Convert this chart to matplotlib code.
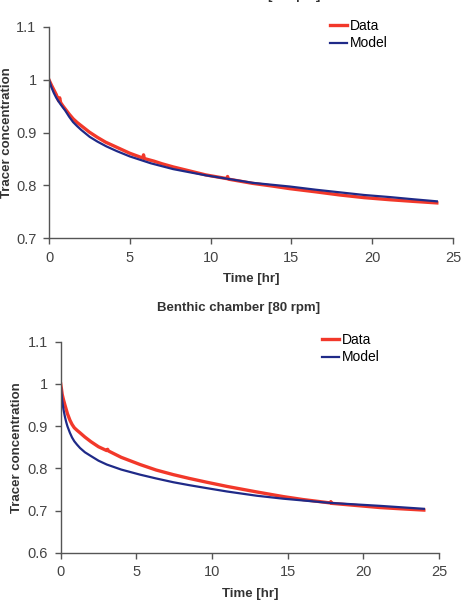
import matplotlib
matplotlib.use("Agg")
import matplotlib.pyplot as plt

plt.rcParams["font.family"] = ["Liberation Sans", "DejaVu Sans"]

RED = "#f2382a"
BLUE = "#1f2a88"
GREY = "#555555"
TXT = "#333333"

# --- top chart (title cut off at the top edge in the source) ---
top_title = "Benthic chamber [40 rpm]"
top_t_data = [0, 0.15, 0.3, 0.45, 0.6, 0.66, 0.72, 0.85, 1.0, 1.25, 1.5, 1.75,
              2.0, 2.5, 3.0, 3.5, 4.0, 4.5, 5.0, 5.8, 5.85, 5.9, 6.5, 7.0,
              7.7, 8.5, 9.7, 11.0, 11.05, 11.1, 12.6, 13.8, 14.9, 16.5, 18.0,
              19.5, 21.1, 22.5, 24.0]
top_data = [1.0, 0.990, 0.981, 0.972, 0.960, 0.966, 0.957, 0.951, 0.945,
            0.935, 0.926, 0.919, 0.913, 0.901, 0.891, 0.882, 0.875, 0.868,
            0.861, 0.852, 0.858, 0.851, 0.846, 0.841, 0.835, 0.829, 0.820,
            0.813, 0.817, 0.812, 0.804, 0.799, 0.794, 0.788, 0.782, 0.777,
            0.773, 0.770, 0.767]
top_t_model = [0, 0.15, 0.3, 0.45, 0.66, 0.85, 1.0, 1.25, 1.49, 1.75, 2.0,
               2.52, 3.0, 3.55, 4.2, 5.0, 6.3, 7.68, 8.7, 9.74, 11.8, 12.6,
               14.9, 16.5, 18.0, 19.5, 21.1, 22.5, 24.0]
top_model = [1.0, 0.986, 0.975, 0.966, 0.956, 0.948, 0.942, 0.930, 0.920,
             0.912, 0.905, 0.892, 0.883, 0.874, 0.865, 0.855, 0.842, 0.831,
             0.825, 0.819, 0.809, 0.805, 0.798, 0.792, 0.787, 0.782, 0.778,
             0.774, 0.770]

# --- bottom chart ---
bot_title = "Benthic chamber [80 rpm]"
bot_t_data = [0, 0.05, 0.1, 0.18, 0.28, 0.36, 0.45, 0.61, 0.75, 0.9, 1.08,
              1.28, 1.6, 2.0, 2.5, 3.04, 3.1, 3.16, 4.0, 5.24, 6.3, 7.44, 8.5,
              9.65, 11.0, 12.95, 14.7, 16.0, 17.8, 17.85, 17.9, 19.5, 21.1,
              22.5, 24.0]
bot_data = [1.0, 0.988, 0.975, 0.963, 0.950, 0.940, 0.929, 0.914, 0.904,
            0.896, 0.890, 0.884, 0.874, 0.863, 0.851, 0.842, 0.845, 0.841,
            0.826, 0.809, 0.796, 0.785, 0.776, 0.767, 0.757, 0.744, 0.733,
            0.726, 0.718, 0.721, 0.717, 0.712, 0.707, 0.704, 0.701]
bot_t_model = [0, 0.05, 0.1, 0.18, 0.28, 0.36, 0.45, 0.61, 0.75, 0.9, 1.08,
               1.28, 1.6, 2.0, 2.5, 3.04, 4.0, 5.24, 6.3, 7.44, 8.5, 9.65,
               11.0, 12.95, 14.7, 17.8, 21.1, 24.0]
bot_model = [1.0, 0.978, 0.960, 0.940, 0.922, 0.910, 0.899, 0.884, 0.873,
             0.864, 0.856, 0.848, 0.838, 0.829, 0.818, 0.809, 0.797, 0.785,
             0.776, 0.767, 0.760, 0.753, 0.745, 0.735, 0.728, 0.718, 0.711,
             0.704]

W, H = 463, 601


def style_axes(ax, ylim, yticks, yticklabels):
    ax.set_xlim(0, 25)
    ax.set_ylim(*ylim)
    ax.set_xticks([0, 5, 10, 15, 20, 25])
    ax.set_yticks(yticks)
    ax.set_yticklabels(yticklabels)
    for side in ["top", "right"]:
        ax.spines[side].set_visible(False)
    for side in ["left", "bottom"]:
        ax.spines[side].set_color(GREY)
        ax.spines[side].set_linewidth(1.0)
    ax.tick_params(direction="out", length=4, width=1.0, color=GREY,
                   labelsize=10.5, labelcolor="#444444", pad=5)
    ax.set_xlabel("Time [hr]", fontsize=9.5, fontweight="bold", color=TXT,
                  labelpad=6)
    ax.set_ylabel("Tracer concentration", fontsize=9.5, fontweight="bold",
                  color=TXT)


fig = plt.figure(figsize=(W / 100, H / 100), dpi=100)

ax1 = fig.add_axes([49 / W, 1 - 238.3 / H, (453 - 49) / W, (238.3 - 27) / H])
ax1.plot(top_t_data, top_data, color=RED, lw=2.4, label="Data")
ax1.plot(top_t_model, top_model, color=BLUE, lw=1.6, label="Model")
style_axes(ax1, (0.7, 1.1), [0.7, 0.8, 0.9, 1.0, 1.1],
           ["0.7", "0.8", "0.9", "1", "1.1"])
ax1.yaxis.set_label_coords(-35.5 / (453 - 49), 0.5)
ax1.legend(loc="upper left", bbox_to_anchor=(330 / W, 1 - 19 / H),
           bbox_transform=fig.transFigure, frameon=False, fontsize=10,
           handlelength=1.2, handletextpad=0.2, labelspacing=0.25,
           borderpad=0, borderaxespad=0)
fig.text(239 / W, 1 + 1 / H, top_title, ha="center", va="baseline",
         fontsize=9.5, fontweight="bold", color=TXT)

ax2 = fig.add_axes([60.7 / W, 1 - 552.7 / H, (439 - 60.7) / W,
                    (552.7 - 341.7) / H])
ax2.plot(bot_t_data, bot_data, color=RED, lw=2.4, label="Data")
ax2.plot(bot_t_model, bot_model, color=BLUE, lw=1.6, label="Model")
style_axes(ax2, (0.6, 1.1), [0.6, 0.7, 0.8, 0.9, 1.0, 1.1],
           ["0.6", "0.7", "0.8", "0.9", "1", "1.1"])
ax2.yaxis.set_label_coords(-37.7 / (439 - 60.7), 0.5)
ax2.legend(loc="upper left", bbox_to_anchor=(322 / W, 1 - 333 / H),
           bbox_transform=fig.transFigure, frameon=False, fontsize=10,
           handlelength=1.2, handletextpad=0.2, labelspacing=0.25,
           borderpad=0, borderaxespad=0)
fig.text(239 / W, 1 - 311 / H, bot_title, ha="center", va="baseline",
         fontsize=9.5, fontweight="bold", color=TXT)

fig.savefig("out.png", dpi=100)
